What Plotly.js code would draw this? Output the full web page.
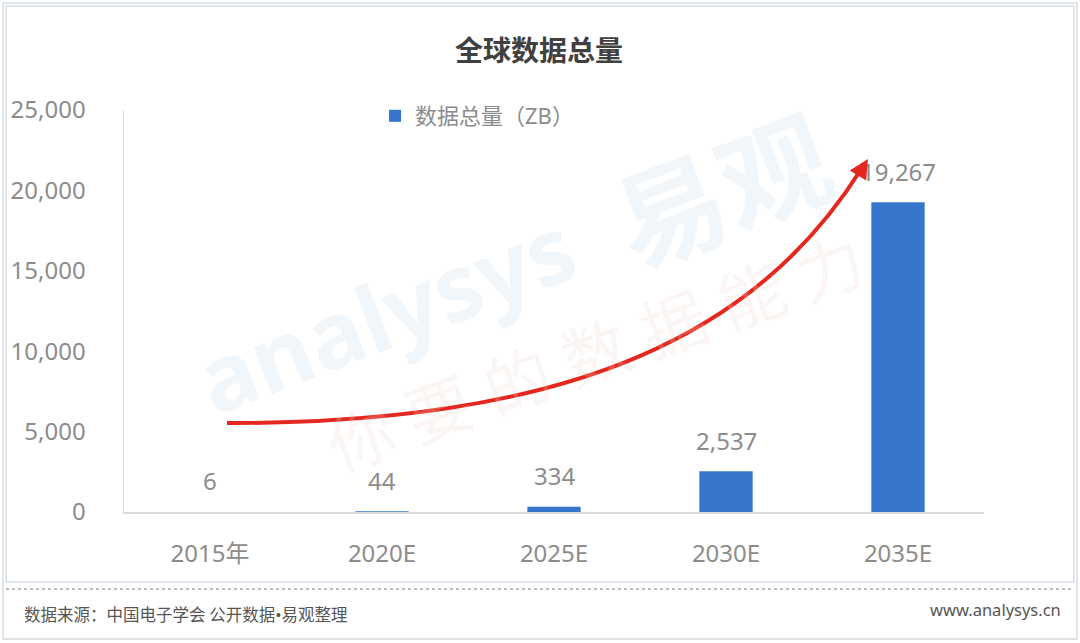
<!DOCTYPE html>
<html>
<head>
<meta charset="utf-8">
<script src="https://cdn.plot.ly/plotly-3.0.1.min.js"></script>
<style>
html,body{margin:0;padding:0;background:#fff;}
#chart{width:1080px;height:643px;}
</style>
</head>
<body>
<div id="chart"></div>
<script>
const categories = ['2015年', '2020E', '2025E', '2030E', '2035E'];
const values = [6, 44, 334, 2537, 19267];
const valueLabels = ['6', '44', '334', '2,537', '19,267'];
const yTicks = [0, 5000, 10000, 15000, 20000, 25000];
const seriesName = '数据总量（ZB）';
const chartTitle = '全球数据总量';
const sourceText = '数据来源：中国电子学会 公开数据<span style="font-family:Noto Sans">•</span>易观整理';
const siteText = 'www.analysys.cn';

const FONT = '"Noto Sans", "Noto Sans CJK SC", sans-serif';
const GRAY = '#8c8c8c';

// pixel -> paper helpers (plot area: x 124..984, y 110..512)
const L = 124, R = 984, T = 110, B = 512;
const px = v => (v - L) / (R - L);
const py = v => (B - v) / (B - T);

const trace = {
  type: 'bar',
  x: categories,
  y: values,
  name: seriesName,
  marker: {color: '#3575cb'},
  width: 0.31,
  hoverinfo: 'x+y'
};

const labelAnns = categories.map((c, i) => ({
  x: c, y: values[i], xref: 'x', yref: 'y',
  text: valueLabels[i], showarrow: false,
  xanchor: 'center', yanchor: 'middle', yshift: 31,
  font: {family: FONT, size: 24, color: GRAY}
}));

const watermark = [
  {text: 'analysys', x: px(385), y: py(312), size: 92, color: 'rgba(215,228,242,0.35)', angle: -21, bold: true},
  {text: '易观', x: px(722), y: py(190), size: 110, color: 'rgba(215,228,242,0.35)', angle: -21, bold: true},
  {text: '你 要 的 数 据 能 力', x: px(595), y: py(352), size: 66, color: 'rgba(235,215,205,0.22)', angle: -20, bold: false}
].map(w => ({
  xref: 'paper', yref: 'paper', x: w.x, y: w.y, showarrow: false,
  xanchor: 'center', yanchor: 'middle',
  text: w.bold ? '<b>' + w.text + '</b>' : w.text, textangle: w.angle,
  font: {family: FONT, size: w.size, color: w.color}
}));

const otherAnns = [
  {xref: 'paper', yref: 'paper', x: px(539), y: py(50), xanchor: 'center', yanchor: 'middle', showarrow: false,
   text: '<b>' + chartTitle + '</b>', font: {family: FONT, size: 28, color: '#404040'}},
  {xref: 'paper', yref: 'paper', x: px(22), y: py(614), xanchor: 'left', yanchor: 'middle', showarrow: false,
   text: sourceText, font: {family: '"Noto Sans CJK SC", sans-serif', size: 16.5, color: '#555'}},
  {xref: 'paper', yref: 'paper', x: px(1063), y: py(609), xanchor: 'right', yanchor: 'middle', showarrow: false,
   text: siteText, font: {family: FONT, size: 16.5, color: '#555'}},
  // arrow head
  {xref: 'paper', yref: 'paper', x: px(868), y: py(159), ax: -11, ay: 18,
   showarrow: true, text: '', arrowhead: 2, arrowsize: 1.1, arrowwidth: 3.5,
   arrowcolor: '#e5281f', standoff: 0}
];

const shapes = [
  {type: 'rect', xref: 'paper', yref: 'paper', x0: px(3), x1: px(1077), y0: py(3), y1: py(639),
   line: {color: '#d8dde3', width: 1.5}, layer: 'below'},
  {type: 'rect', xref: 'paper', yref: 'paper', x0: px(6), x1: px(1074), y0: py(6), y1: py(582),
   line: {color: '#dfe6ee', width: 2}, layer: 'below'},
  {type: 'line', xref: 'paper', yref: 'paper', x0: px(6), x1: px(1074), y0: py(589), y1: py(589),
   line: {color: '#a8a8a8', width: 1.5, dash: 'dot'}},
  {type: 'path', xref: 'paper', yref: 'paper',
   path: 'M' + px(227) + ',' + py(423) + ' C' + px(580) + ',' + py(424) + ' ' + px(760) + ',' + py(330) + ' ' + px(862) + ',' + py(168),
   line: {color: '#e5281f', width: 4}}
];

const layout = {
  width: 1080, height: 643,
  margin: {l: L, r: 1080 - R, t: T, b: 643 - B, pad: 0},
  paper_bgcolor: '#fff', plot_bgcolor: 'rgba(0,0,0,0)',
  font: {family: FONT, color: GRAY},
  showlegend: true,
  legend: {x: px(375), y: py(116), xanchor: 'left', yanchor: 'middle', orientation: 'h',
           font: {family: FONT, size: 22, color: GRAY}, bgcolor: 'rgba(0,0,0,0)'},
  xaxis: {type: 'category', showgrid: false, showline: true, linecolor: '#d9d9d9', linewidth: 1.5,
          ticks: '', tickfont: {family: FONT, size: 24, color: GRAY}, ticklabelstandoff: 20,
          fixedrange: true},
  yaxis: {range: [0, 25000], tickvals: yTicks, tickformat: ',d', showgrid: false, zeroline: false,
          showline: true, linecolor: '#d9d9d9', linewidth: 1.5, ticks: '',
          tickfont: {family: FONT, size: 24, color: GRAY}, ticklabelstandoff: 32, fixedrange: true},
  bargap: 0.69,
  annotations: watermark.concat(labelAnns, otherAnns),
  shapes: shapes
};

Plotly.newPlot('chart', [trace], layout, {displayModeBar: false, staticPlot: true});
</script>
</body>
</html>
